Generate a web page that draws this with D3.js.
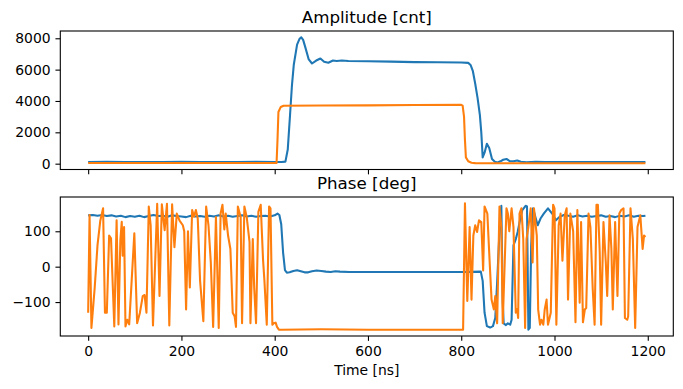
<!DOCTYPE html>
<html>
<head>
<meta charset="utf-8">
<script src="https://cdn.jsdelivr.net/npm/d3@7"></script>
<style>
  body { margin: 0; background: #fff; }
  svg text { font-family: "DejaVu Sans", sans-serif; fill: #000; }
</style>
</head>
<body>
<svg id="chart" width="683" height="389"></svg>
<script>
"use strict"

// x ticks shared by both panels
const timeTicks = [0, 200, 400, 600, 800, 1000, 1200];
const ampTicks = [0, 2000, 4000, 6000, 8000];
const phaseTicks = [-100, 0, 100];

// amplitude, [time ns, counts]
const ampBlue = [[0,110],[40,115],[80,108],[120,112],[160,110],[200,114],[240,109],[280,112],[320,110],[360,113],[400,110],[415,105],
  [423,130],[428,900],[433,3150],[437,5000],[441,6330],[448,7600],[453,7950],[457,8063],[461,7900],[466,7390],[473,6650],
  [480,6390],[489,6580],[498,6710],[506,6500],[515,6440],[525,6580],[533,6550],[544,6580],[558,6550],[600,6540],[650,6510],
  [700,6480],[750,6470],[800,6460],[815,6430],[820,6300],[825,5900],[830,5100],[835,4200],[840,3100],[843,2000],[846,400],
  [850,700],[855,1270],[860,1000],[866,300],[872,120],[878,80],[884,150],[890,250],[897,300],[904,160],[912,150],[920,200],
  [928,120],[940,90],[960,120],[980,100],[1000,110],[1040,105],[1080,112],[1120,106],[1160,110],[1195,108]];
const ampOrange = [[0,40],[100,40],[200,42],[300,40],[404,45],[406,1500],[408,3300],[413,3620],[419,3700],[500,3710],
  [600,3720],[700,3740],[800,3750],[803,3700],[806,3000],[808,1500],[810,400],[815,150],[822,60],[830,35],[900,30],
  [1000,30],[1100,30],[1195,30]];

// phase, [time ns, degrees]
const phaseBlue = [[0,145],[10,146],[20,144],[30,146],[40,143],[50,145],[60,142],[70,144],[80,140],[90,143],[100,141],
  [110,144],[120,140],[130,143],[140,146],[150,143],[160,144],[170,141],[180,145],[190,143],[200,142],[210,140],[220,144],
  [230,142],[240,143],[250,141],[260,144],[270,142],[280,145],[290,142],[300,144],[310,141],[320,143],[330,145],[340,142],
  [350,144],[360,141],[370,143],[380,144],[390,142],[400,145],[406,150],[410,146],[414,120],[418,40],[422,-10],[426,-17],
  [432,-16],[440,-12],[448,-10],[456,-13],[464,-16],[472,-16],[480,-13],[490,-11],[500,-12],[510,-14],[520,-15],[530,-13],
  [540,-14],[560,-15],[600,-15],[650,-15],[700,-15],[750,-15],[800,-15],[842,-14],[846,-40],[850,-130],[855,-168],
  [862,-172],[868,-168],[873,-145],[877,-45],[882,100],[886,172],[889,-100],[891,-160],[896,-165],[900,-160],[905,-164],
  [908,-150],[912,60],[917,78],[921,98],[926,131],[931,160],[938,172],[941,170],[944,-178],[947,-173],[950,60],[954,165],
  [959,140],[964,117],[970,136],[977,150],[986,165],[995,150],[1003,131],[1010,140],[1020,146],[1030,144],[1040,141],
  [1050,145],[1060,142],[1070,144],[1080,141],[1090,143],[1100,145],[1110,141],[1120,143],[1130,140],[1140,144],[1150,142],
  [1160,145],[1170,141],[1180,144],[1190,143],[1195,144]];
const phaseOrange = [[0,-130],[3,146],[7,-173],[14,-60],[20,60],[26,130],[32,165],[36,-130],[40,-130],[45,88],[49,80],
  [56,-169],[61,131],[65,-163],[69,74],[72,127],[74,31],[77,112],[80,-169],[84,-150],[88,-163],[99,94],[105,-160],[111,-130],
  [117,-83],[121,-80],[125,-130],[130,170],[134,117],[139,-166],[148,178],[153,-83],[158,176],[164,103],[169,178],[174,-166],
  [180,176],[185,55],[190,150],[196,130],[203,117],[206,100],[210,-121],[214,100],[218,-59],[223,160],[227,141],[231,160],
  [235,136],[240,-40],[247,-154],[253,170],[258,117],[263,12],[268,-170],[274,140],[280,-173],[284,150],[288,175],[292,105],
  [295,150],[300,88],[305,50],[310,-130],[314,-140],[317,-170],[321,170],[327,140],[330,-160],[335,170],[340,140],[346,70],
  [348,-160],[353,78],[356,-59],[360,-160],[365,155],[370,175],[375,20],[378,-40],[383,-164],[388,170],[391,165],[395,-164],
  [398,-160],[402,-158],[405,-170],[409,-178],[415,-178],[500,-177],[600,-178],[700,-178],[804,-178],[808,179],[813,-97],
  [818,112],[822,-93],[826,88],[830,117],[834,98],[838,131],[843,126],[847,-11],[850,170],[856,150],[861,12],[865,-93],
  [870,-121],[873,-83],[877,-160],[882,170],[886,112],[889,-160],[897,165],[900,150],[903,100],[908,165],[912,112],[917,-130],
  [920,-120],[922,-145],[925,150],[929,165],[933,78],[937,-173],[940,78],[944,112],[949,165],[953,12],[956,165],[962,88],
  [965,-121],[969,-164],[972,-150],[976,-164],[979,-121],[983,-93],[986,-164],[992,-130],[997,175],[1000,165],[1004,-164],
  [1009,117],[1013,150],[1017,17],[1022,145],[1026,165],[1029,-93],[1034,150],[1040,100],[1045,-157],[1049,160],[1054,-102],
  [1057,126],[1061,-157],[1065,-121],[1068,-117],[1073,150],[1077,112],[1082,-64],[1086,-164],[1090,175],[1093,175],[1097,41],
  [1100,-164],[1105,126],[1110,12],[1113,-83],[1118,145],[1122,50],[1125,-121],[1130,126],[1135,-83],[1139,150],[1143,160],
  [1148,165],[1151,-145],[1156,-150],[1158,-140],[1163,165],[1168,78],[1173,-173],[1178,112],[1184,145],[1189,50],[1192,88],
  [1195,84]];

const BLUE = "#1f77b4", ORANGE = "#ff7f0e";
const svg = d3.select("#chart");
const left = 60.3, right = 673.3;

// matplotlib style 5% padding on data limits
function padded(ext) {
  let m = (ext[1] - ext[0]) * 0.05;
  return [ext[0] - m, ext[1] + m];
}

const allT = ampBlue.concat(ampOrange).map(d => d[0]);
const x = d3.scaleLinear().domain(padded(d3.extent(allT))).range([left, right]);

function drawPanel(top, bottom, series, yTicks, title, showXLabels) {
  let vals = [];
  series.forEach(s => s.data.forEach(d => vals.push(d[1])));
  let y = d3.scaleLinear().domain(padded(d3.extent(vals))).range([bottom, top]);
  let g = svg.append("g");

  let line = d3.line().x(d => x(d[0])).y(d => y(d[1]));
  series.forEach(s => {
    g.append("path")
      .attr("d", line(s.data))
      .attr("fill", "none")
      .attr("stroke", s.color)
      .attr("stroke-width", 2.08)
      .attr("stroke-linejoin", "round");
  });

  // frame
  g.append("rect")
    .attr("x", left).attr("y", top)
    .attr("width", right - left).attr("height", bottom - top)
    .attr("fill", "none").attr("stroke", "#000").attr("stroke-width", 1.1);

  // y axis
  let yAxis = g.append("g").attr("transform", "translate(" + left + ",0)")
    .call(d3.axisLeft(y).tickValues(yTicks).tickSize(4.86).tickPadding(4.86).tickFormat(d3.format("d")));
  yAxis.select(".domain").remove();
  yAxis.selectAll("line").attr("stroke-width", 1.1);
  yAxis.selectAll("text").attr("font-size", "13.9px").attr("font-family", "DejaVu Sans");

  // x axis
  let xAxis = g.append("g").attr("transform", "translate(0," + bottom + ")")
    .call(d3.axisBottom(x).tickValues(timeTicks).tickSize(4.86).tickPadding(4.86).tickFormat(d3.format("d")));
  xAxis.select(".domain").remove();
  xAxis.selectAll("line").attr("stroke-width", 1.1);
  if (showXLabels)
    xAxis.selectAll("text").attr("font-size", "13.9px").attr("font-family", "DejaVu Sans");
  else
    xAxis.selectAll("text").remove();

  g.append("text")
    .attr("x", (left + right) / 2).attr("y", top - 8.3)
    .attr("text-anchor", "middle")
    .attr("font-size", "16.7px")
    .text(title);
}

drawPanel(31, 169.5, [{data: ampBlue, color: BLUE}, {data: ampOrange, color: ORANGE}], ampTicks, "Amplitude [cnt]", false);
drawPanel(197, 336, [{data: phaseBlue, color: BLUE}, {data: phaseOrange, color: ORANGE}], phaseTicks, "Phase [deg]", true);

svg.append("text")
  .attr("x", (left + right) / 2).attr("y", 375)
  .attr("text-anchor", "middle")
  .attr("font-size", "13.9px")
  .text("Time [ns]");
</script>
</body>
</html>
